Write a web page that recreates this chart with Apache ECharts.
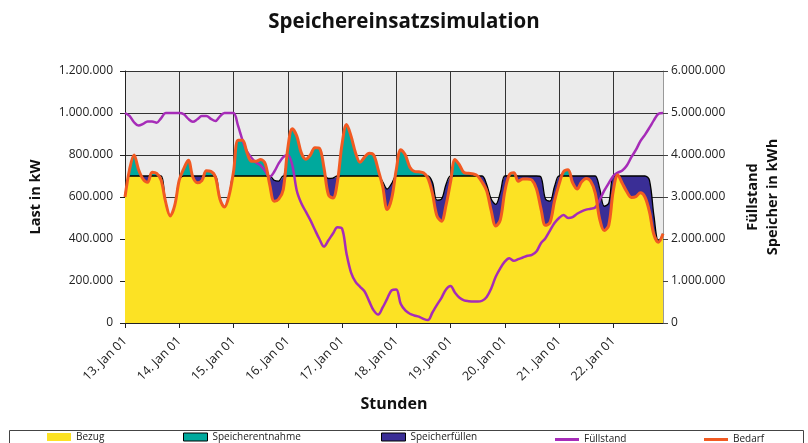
<!DOCTYPE html>
<html>
<head>
<meta charset="utf-8">
<script src="https://cdn.jsdelivr.net/npm/echarts@6/dist/echarts.min.js"></script>
<style>html,body{margin:0;padding:0;background:#fff}#c{width:808px;height:443px}</style>
</head>
<body>
<div id="c"></div>
<script>
// Tick labels (day boundaries), data sampled every 2 hours starting 13. Jan 01 00:00
const dayLabels = ['13. Jan 01','14. Jan 01','15. Jan 01','16. Jan 01','17. Jan 01','18. Jan 01','19. Jan 01','20. Jan 01','21. Jan 01','22. Jan 01'];
const leftTicks = [0, 200000, 400000, 600000, 800000, 1000000, 1200000];
const rightTicks = [0, 1000000, 2000000, 3000000, 4000000, 5000000, 6000000];

// Bedarf (demand), in 1.000 kW
const bedarf = [
 600,730,800,730,685,670,718,712,680,575,510,560,
 680,735,775,695,668,678,725,722,695,590,552,605,
 720,870,870,810,770,770,778,760,660,580,590,635,
 830,925,890,810,780,800,835,832,740,610,595,675,
 850,945,890,810,765,790,808,800,730,650,540,594,
 730,825,800,742,722,720,715,690,617,510,485,560,
 670,778,752,716,713,710,700,670,630,535,462,490,
 625,705,715,675,686,686,681,640,545,465,478,580,
 660,720,730,668,638,672,688,675,620,495,440,465,
 630,705,665,625,598,602,620,600,530,420,385,425
];
// Bezug (purchase from grid), in 1.000 kW
const bezug = [
 600,700,700,700,700,700,700,700,700,575,510,560,
 680,700,700,700,700,700,700,700,700,590,552,605,
 700,700,700,700,700,700,700,700,700,680,676,700,
 700,700,700,700,700,700,700,700,700,688,690,700,
 700,700,700,700,700,700,700,700,700,672,638,665,
 700,700,700,700,700,700,700,700,670,585,590,660,
 700,700,700,700,700,700,700,700,660,590,565,620,
 700,700,700,700,700,700,700,700,695,590,580,650,
 700,700,700,700,700,700,700,700,700,640,556,570,
 700,700,700,700,700,700,700,700,680,510,390,425
];
// Füllstand (storage level), in Mio. kWh
const fuellstand = [
 5.0,4.93,4.78,4.70,4.74,4.80,4.80,4.77,4.88,5.0,5.0,5.0,
 5.0,4.97,4.86,4.79,4.85,4.93,4.93,4.86,4.81,4.92,5.0,5.0,
 5.0,4.70,4.35,4.08,3.93,3.82,3.75,3.62,3.48,3.60,3.80,3.95,
 4.0,3.76,3.15,2.85,2.65,2.45,2.22,2.0,1.82,1.97,2.13,2.28,
 2.25,1.65,1.20,0.98,0.86,0.75,0.52,0.30,0.20,0.37,0.58,0.78,
 0.80,0.45,0.30,0.22,0.18,0.15,0.10,0.07,0.25,0.43,0.60,0.80,
 0.88,0.72,0.60,0.54,0.52,0.51,0.51,0.53,0.62,0.82,1.10,1.30,
 1.46,1.54,1.48,1.52,1.56,1.60,1.62,1.70,1.90,2.02,2.20,2.38,
 2.50,2.57,2.50,2.52,2.60,2.66,2.70,2.72,2.75,2.93,3.15,3.33,
 3.50,3.58,3.63,3.75,3.95,4.12,4.33,4.48,4.65,4.83,4.98,5.0
];

const stepHours = 2;
const hours = bedarf.map((_, i) => i * stepHours);
const perDay = 24 / stepHours;

const kW = v => v * 1000;
const yellowData = bedarf.map((d, i) => kW(Math.min(d, bezug[i])));
const tealData = bedarf.map((d, i) => kW(Math.max(0, d - bezug[i])));
const blueData = bedarf.map((d, i) => kW(Math.max(0, bezug[i] - d)));
const bezugLine = bezug.map(kW);
const bedarfLine = bedarf.map(kW);
const fuellLine = fuellstand.map(v => v * 1000000);

const fmt = v => String(v).replace(/\B(?=(\d{3})+(?!\d))/g, '.');
const FONT = 'Open Sans';
const C = { yellow:'#FCE224', teal:'#00A99D', blue:'#3A2E96', purple:'#A62CB8', orange:'#F15A22' };

const chart = echarts.init(document.getElementById('c'), null, { renderer: 'canvas' });
const smooth = 0.35;
const legendBase = { top: 432, itemWidth: 24, itemHeight: 8, textStyle: { fontFamily: FONT, fontSize: 10, color: '#222' }, selectedMode: false, padding: 0 };

chart.setOption({
  animation: false,
  textStyle: { fontFamily: FONT },
  title: { text: 'Speichereinsatzsimulation', left: 'center', top: 7, textStyle: { fontFamily: FONT, fontSize: 20.5, fontWeight: 'bold', color: '#111' } },
  grid: { left: 125, right: 145, top: 71, bottom: 120, show: true, backgroundColor: '#EBEBEB', borderWidth: 0 },
  graphic: [{ type: 'rect', left: 7, top: 428, shape: { width: 794, height: 30 }, style: { fill: 'none', stroke: '#444', lineWidth: 1 }, silent: true }],
  legend: [
    Object.assign({}, legendBase, { left: 47, icon: 'rect', data: [{ name: 'Bezug', itemStyle: { color: C.yellow, borderWidth: 0 } }] }),
    Object.assign({}, legendBase, { left: 183, icon: 'rect', data: [{ name: 'Speicherentnahme', itemStyle: { color: C.teal, borderColor: '#000', borderWidth: 1 } }] }),
    Object.assign({}, legendBase, { left: 381, icon: 'rect', data: [{ name: 'Speicherfüllen', itemStyle: { color: C.blue, borderColor: '#000', borderWidth: 1 } }] }),
    Object.assign({}, legendBase, { left: 555, top: 434.5, icon: 'rect', itemHeight: 3, data: [{ name: 'Füllstand', itemStyle: { color: C.purple } }] }),
    Object.assign({}, legendBase, { left: 704, top: 434.5, icon: 'rect', itemHeight: 3, data: [{ name: 'Bedarf', itemStyle: { color: C.orange } }] })
  ],
  xAxis: {
    type: 'category', data: hours, boundaryGap: false,
    name: 'Stunden', nameLocation: 'middle', nameGap: 73,
    nameTextStyle: { fontFamily: FONT, fontSize: 16, fontWeight: 'bold', color: '#111' },
    axisLine: { lineStyle: { color: '#222', width: 1 } },
    axisTick: { interval: perDay - 1, length: 5, lineStyle: { color: '#222' } },
    axisLabel: { interval: perDay - 1, rotate: 45, margin: 16, fontSize: 12.5, color: '#222', fontFamily: FONT,
      formatter: (v, idx) => dayLabels[Math.floor(idx / perDay)] || '' },
    splitLine: { show: true, interval: perDay - 1, lineStyle: { color: '#333', width: 1 } }
  },
  yAxis: [
    { type: 'value', min: leftTicks[0], max: leftTicks[leftTicks.length - 1], interval: leftTicks[1] - leftTicks[0],
      name: 'Last in kW', nameLocation: 'middle', nameGap: 82, nameRotate: 90,
      nameTextStyle: { fontFamily: FONT, fontSize: 14.5, fontWeight: 'bold', color: '#111' },
      axisLine: { show: true, lineStyle: { color: '#222' } },
      axisTick: { show: true, length: 5, lineStyle: { color: '#222' } },
      axisLabel: { formatter: fmt, fontSize: 12, color: '#222', margin: 12, fontFamily: FONT },
      splitLine: { show: true, lineStyle: { color: '#333', width: 1 } } },
    { type: 'value', min: rightTicks[0], max: rightTicks[rightTicks.length - 1], interval: rightTicks[1] - rightTicks[0],
      position: 'right',
      name: 'Füllstand\nSpeicher in kWh', nameLocation: 'middle', nameGap: 80, nameRotate: 90,
      nameTextStyle: { fontFamily: FONT, fontSize: 14.5, fontWeight: 'bold', color: '#111', lineHeight: 20 },
      axisLine: { show: true, lineStyle: { color: '#999' } },
      axisTick: { show: true, length: 5, lineStyle: { color: '#444' } },
      axisLabel: { formatter: fmt, fontSize: 12, color: '#222', margin: 8, fontFamily: FONT },
      splitLine: { show: false } }
  ],
  series: [
    { name: 'Bezug', type: 'line', stack: 'last', data: yellowData, smooth, symbol: 'none',
      lineStyle: { width: 0 }, areaStyle: { color: C.yellow, opacity: 1 }, itemStyle: { color: C.yellow }, z: 2 },
    { name: 'Speicherentnahme', type: 'line', stack: 'last', data: tealData, smooth, symbol: 'none',
      lineStyle: { width: 0 }, areaStyle: { color: C.teal, opacity: 1 }, itemStyle: { color: C.teal }, z: 2 },
    { name: 'Speicherfüllen', type: 'line', stack: 'last', data: blueData, smooth, symbol: 'none',
      lineStyle: { width: 0 }, areaStyle: { color: C.blue, opacity: 1 }, itemStyle: { color: C.blue }, z: 2 },
    { name: 'BezugLinie', type: 'line', data: bezugLine, smooth, symbol: 'none',
      lineStyle: { width: 1.3, color: '#000' }, z: 3 },
    { name: 'Füllstand', type: 'line', yAxisIndex: 1, data: fuellLine, smooth, symbol: 'none',
      lineStyle: { width: 2.5, color: C.purple }, itemStyle: { color: C.purple }, z: 4 },
    { name: 'Bedarf', type: 'line', data: bedarfLine, smooth, symbol: 'none',
      lineStyle: { width: 3, color: C.orange }, itemStyle: { color: C.orange }, z: 5 }
  ]
});
</script>
</body>
</html>
